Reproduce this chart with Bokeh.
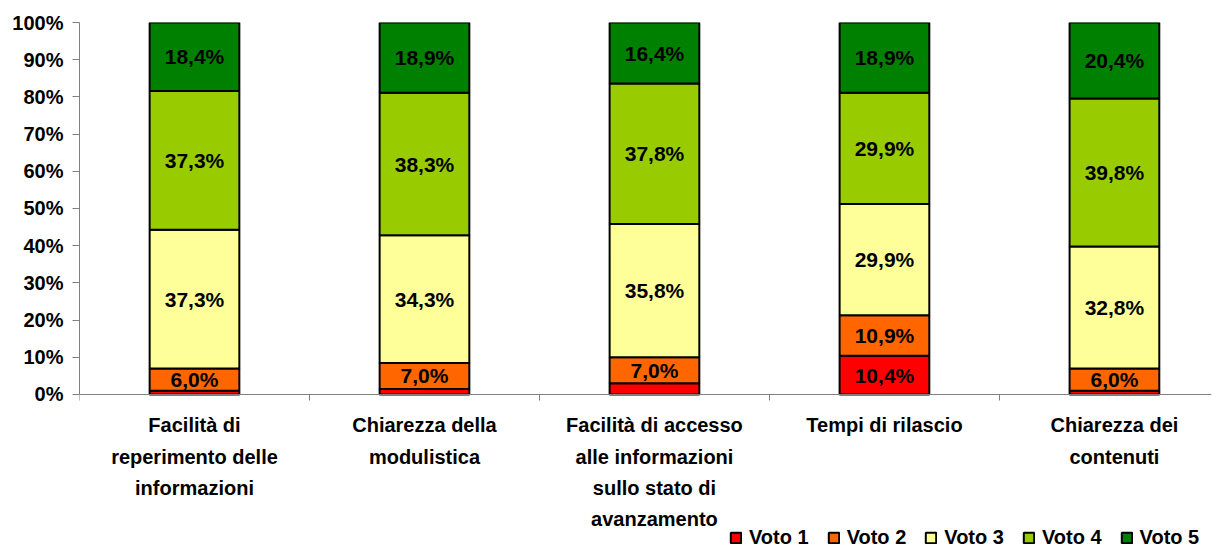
from bokeh.plotting import figure
from bokeh.models import ColumnDataSource, FixedTicker, Legend, LegendItem, NumeralTickFormatter, Range1d
from bokeh.core.properties import value
from bokeh.embed import file_html
from bokeh.resources import INLINE

categories = [
    "Facilità di\nreperimento delle\ninformazioni",
    "Chiarezza della\nmodulistica",
    "Facilità di accesso\nalle informazioni\nsullo stato di\navanzamento",
    "Tempi di rilascio",
    "Chiarezza dei\ncontenuti",
]
series_names = ["Voto 1", "Voto 2", "Voto 3", "Voto 4", "Voto 5"]
voto1 = [1.0, 1.5, 3.0, 10.4, 1.0]
voto2 = [6.0, 7.0, 7.0, 10.9, 6.0]
voto3 = [37.3, 34.3, 35.8, 29.9, 32.8]
voto4 = [37.3, 38.3, 37.8, 29.9, 39.8]
voto5 = [18.4, 18.9, 16.4, 18.9, 20.4]
colors = ["#FF0000", "#FF6600", "#FFFF99", "#99CC00", "#008000"]
min_label = 5.0  # smaller segments carry no label

FONT = "Liberation Sans"
series = [voto1, voto2, voto3, voto4, voto5]
xs = list(range(len(categories)))

data = {"x": xs}
for name, vals in zip(series_names, series):
    data[name] = [v / 100.0 for v in vals]
src = ColumnDataSource(data)

# frame extends below 0 so the category labels and legend live inside it
p = figure(frame_width=1132, frame_height=533, output_backend="svg", toolbar_location=None,
           x_range=Range1d(-0.5, 4.422), y_range=Range1d(-0.4328, 1),
           min_border_left=79, min_border_top=22, min_border_bottom=0, min_border_right=4)
p.outline_line_color = None
p.xgrid.visible = False
p.ygrid.visible = False
p.background_fill_color = "white"

renderers = p.vbar_stack(series_names, x="x", width=0.39, source=src,
                         fill_color=colors, line_color="black", line_width=2)

# labels
lx, ly, lt = [], [], []
for i in xs:
    base = 0.0
    for vals in series:
        v = vals[i]
        if v >= min_label:
            lx.append(i)
            ly.append((base + v / 2) / 100.0)
            lt.append(("%.1f%%" % v).replace(".", ","))
        base += v
p.text(x=lx, y=ly, text=lt, text_align="center", text_baseline="middle",
       text_font=value(FONT), text_font_style="bold", text_font_size="21px", text_color="black")

# axes
p.yaxis.ticker = FixedTicker(ticks=[i / 10 for i in range(11)])
p.yaxis.bounds = (0, 1)
p.yaxis.formatter = NumeralTickFormatter(format="0%")
p.yaxis.major_label_text_font = FONT
p.yaxis.major_label_text_font_style = "bold"
p.yaxis.major_label_text_font_size = "20px"
p.yaxis.major_label_text_color = "black"
p.yaxis.axis_line_color = "#808080"
p.yaxis.major_tick_line_color = "#808080"
p.yaxis.major_tick_out = 7
p.yaxis.major_tick_in = 0
p.yaxis.minor_tick_line_color = None
p.yaxis.major_label_standoff = 9

p.xaxis.fixed_location = 0
p.xaxis.ticker = FixedTicker(ticks=xs, minor_ticks=[i + 0.5 for i in range(-1, len(categories))])
p.xaxis.major_label_overrides = {i: c for i, c in enumerate(categories)}
p.xaxis.major_label_text_font = FONT
p.xaxis.major_label_text_font_style = "bold"
p.xaxis.major_label_text_font_size = "20px"
p.xaxis.major_label_text_color = "black"
p.xaxis.major_label_text_line_height = 1.41
p.xaxis.axis_line_color = "#808080"
p.xaxis.major_tick_out = 0
p.xaxis.major_tick_in = 0
p.xaxis.minor_tick_out = 6
p.xaxis.minor_tick_in = 0
p.xaxis.minor_tick_line_color = "#808080"
p.xaxis.major_label_standoff = 14

legend = Legend(items=[LegendItem(label=n, renderers=[r]) for n, r in zip(series_names, renderers)],
                orientation="horizontal", location=(650, 6),
                glyph_width=13, glyph_height=13, label_standoff=7, spacing=18,
                padding=0, margin=0, border_line_color=None, background_fill_alpha=0,
                label_text_font=FONT, label_text_font_style="bold", label_text_font_size="20px",
                label_text_color="black")
p.add_layout(legend, "center")

open("out.html", "w").write(file_html(p, INLINE))
